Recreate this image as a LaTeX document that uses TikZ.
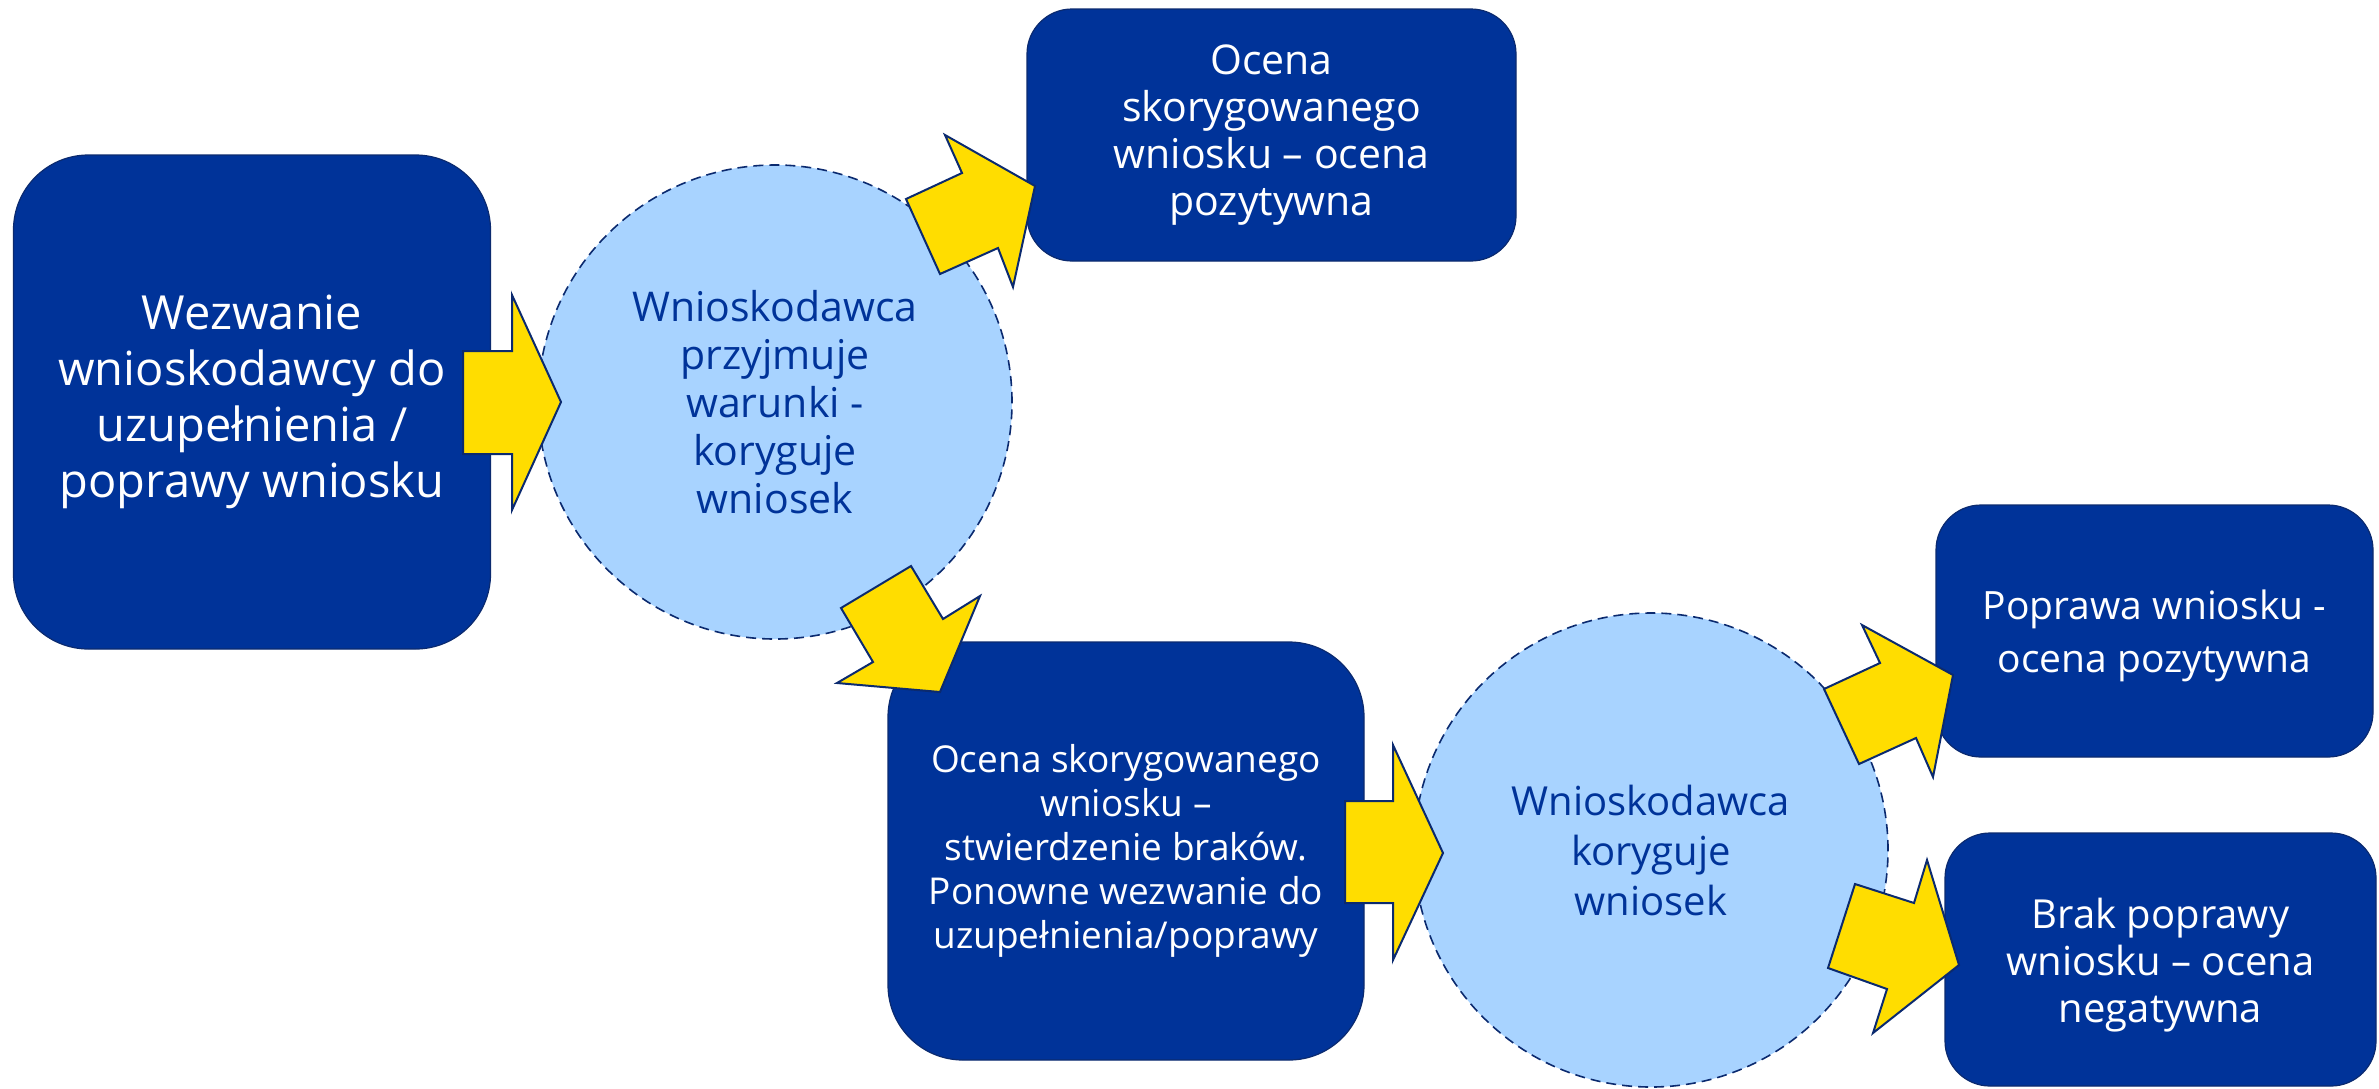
\documentclass[tikz,border=0pt]{standalone}
\usepackage{fontspec}
\setmainfont{Open Sans}
\definecolor{eublue}{HTML}{003399}
\definecolor{navy}{HTML}{0B2A6F}
\definecolor{lightb}{HTML}{A8D3FF}
\definecolor{yel}{HTML}{FFDD00}
\begin{document}
\begin{tikzpicture}[x=1pt,y=-1pt,
  box/.style={rectangle,rounded corners=#1,fill=eublue,draw=navy,line width=1.2pt,text=white,align=center,inner sep=0pt},
  circ/.style={circle,fill=lightb,draw=navy,dashed,line width=1.6pt,dash pattern=on 10pt off 6pt,minimum size=474pt,inner sep=0pt,text=eublue,align=center},
  barrow/.style={fill=yel,draw=navy,line width=2pt,line join=miter}]
\useasboundingbox (0,0) rectangle (2379,1088);
\node[box=75pt,minimum width=477pt,minimum height=494pt,font=\fontsize{47}{56}\selectfont] (b1) at (252,402) {Wezwanie\\wnioskodawcy do\\uzupełnienia /\\poprawy wniosku};
\node[circ,font=\fontsize{41}{48}\selectfont] (c1) at (775,402) {Wnioskodawca\\przyjmuje\\warunki -\\koryguje\\wniosek};
\node[box=45pt,minimum width=489pt,minimum height=252pt,font=\fontsize{41}{47}\selectfont] (b2) at (1271.5,135) {Ocena\\skorygowanego\\wniosku – ocena\\pozytywna};
\node[box=75pt,minimum width=476pt,minimum height=418pt,font=\fontsize{37}{44}\selectfont] (b3) at (1126,851) {Ocena skorygowanego\\wniosku –\\stwierdzenie braków.\\Ponowne wezwanie do\\uzupełnienia/poprawy};
\node[circ,font=\fontsize{40}{50}\selectfont] (c2) at (1651,850) {Wnioskodawca\\koryguje\\wniosek};
\node[box=45pt,minimum width=437pt,minimum height=252pt] (b4) at (2154.5,631) {};
\node[text=white,align=center,font=\fontsize{39}{53}\selectfont] (t4) at (2154.5,636) {Poprawa wniosku -\\ocena pozytywna};
\node[box=45pt,minimum width=431pt,minimum height=253pt] (b5) at (2160.5,959.5) {};
\node[text=white,align=center,font=\fontsize{40}{47}\selectfont] (t5) at (2160.5,965) {Brak poprawy\\wniosku – ocena\\negatywna};
% block arrows
\draw[barrow] (463,351) -- (512,351) -- (512,295) -- (561,402) -- (512,510) -- (512,454) -- (463,454) -- cycle;
\draw[barrow] (906,199) -- (962,173) -- (945,135) -- (1035,186) -- (1013,287) -- (998,248) -- (940,274) -- cycle;
\draw[barrow] (841,608) -- (911,566) -- (943,619) -- (980,596) -- (940,692) -- (837,683) -- (873,662) -- cycle;
\draw[barrow] (1345,801) -- (1393,801) -- (1393,745) -- (1443,853) -- (1393,960) -- (1393,903) -- (1345,903) -- cycle;
\draw[barrow] (1824,689) -- (1880,663) -- (1862,625) -- (1953,675) -- (1933,777) -- (1916,738) -- (1859,764) -- cycle;
\draw[barrow] (1855,884) -- (1914,903) -- (1927,860) -- (1959,965) -- (1873,1033) -- (1887,989) -- (1828,968) -- cycle;
\end{tikzpicture}
\end{document}
